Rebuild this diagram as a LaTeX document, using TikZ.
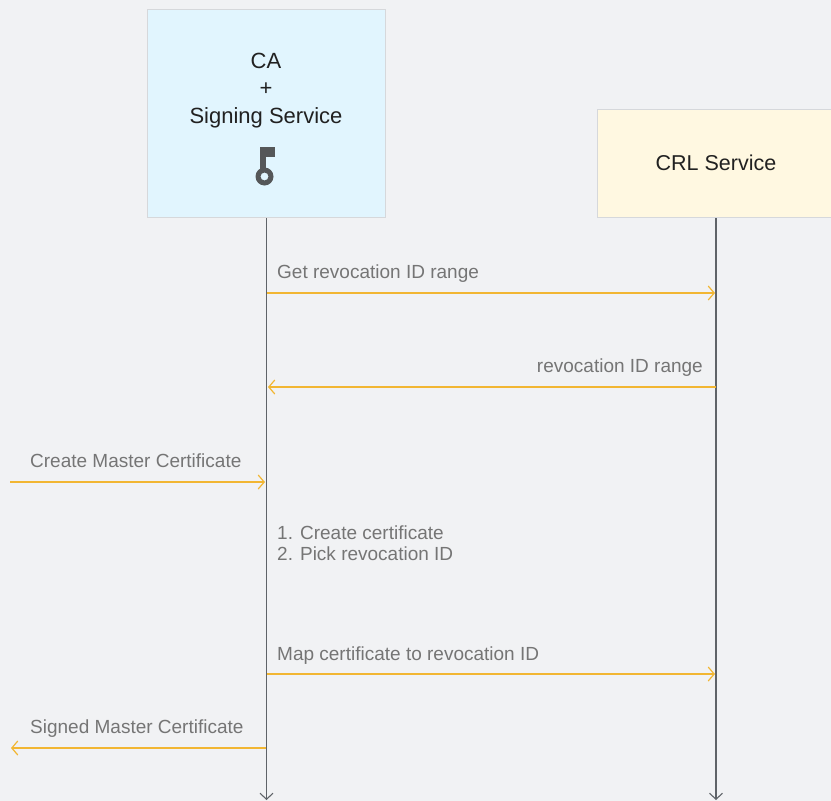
\documentclass[tikz,border=0pt]{standalone}
\usepackage{fontspec}
\setmainfont{Liberation Sans}
\usetikzlibrary{arrows.meta}
\definecolor{bg}{HTML}{F1F2F4}
\definecolor{cafill}{HTML}{E1F5FE}
\definecolor{crlfill}{HTML}{FFF8E1}
\definecolor{boxline}{HTML}{D6D8DB}
\definecolor{lifec}{HTML}{5F6368}
\definecolor{msgc}{HTML}{F2B632}
\definecolor{labc}{HTML}{757575}
\definecolor{titc}{HTML}{212121}
\definecolor{keyc}{HTML}{555759}
\tikzset{
  actor/.style={draw=boxline, line width=1.2pt, inner sep=0pt, anchor=north west},
  acttxt/.style={text=titc, font=\fontsize{22}{27.5}\selectfont, align=center, anchor=base, inner sep=0pt},
  lifeline/.style={draw=lifec, line width=1.1pt, -{Straight Barb[length=6pt,width=13pt,line width=1.1pt]}},
  msg/.style={draw=msgc, line width=1.2pt, -{Straight Barb[length=6pt,width=14pt,line width=1.2pt]}},
  lab/.style={text=labc, font=\fontsize{19}{20.5}\selectfont, inner sep=0pt},
}
\begin{document}
\begin{tikzpicture}[x=1pt,y=-1pt]
\useasboundingbox (0,0) rectangle (831,801);
\fill[bg] (0,0) rectangle (831,801);
% actors
\node[actor, fill=cafill, minimum width=238pt, minimum height=208pt] (ca) at (147,9) {};
\node[actor, fill=crlfill, minimum width=240pt, minimum height=108pt] (crl) at (597,109) {};
\node[acttxt] (catxt) at (266,123) {CA\\+\\Signing Service};
\node[acttxt, font=\fontsize{21.5}{26}\selectfont] (crltxt) at (716,170) {CRL Service};
% key icon
\fill[keyc, even odd rule] (264.5,176.5) circle[radius=9] (264.5,176.5) circle[radius=4];
\fill[keyc] (260,146.5) rectangle (266,169);
\fill[keyc] (265,146.5) rectangle (274.5,157);
% lifelines
\coordinate (caend) at (266.5,800);
\coordinate (crlend) at (716,800);
\draw[lifeline] (ca.south -| caend) -- (caend);
\draw[lifeline] (crl.south -| crlend) -- (crlend);
% message points
\coordinate (m1a) at (267,293); \coordinate (m1b) at (715,293);
\coordinate (m2a) at (715.5,387); \coordinate (m2b) at (268,387);
\coordinate (m3a) at (10,482); \coordinate (m3b) at (265,482);
\coordinate (m4a) at (267,674); \coordinate (m4b) at (715,674);
\coordinate (m5a) at (266,748); \coordinate (m5b) at (11,748);
\draw[msg] (m1a) -- (m1b);
\draw[msg] (m2a) -- (m2b);
\draw[msg] (m3a) -- (m3b);
\draw[msg] (m4a) -- (m4b);
\draw[msg] (m5a) -- (m5b);
% labels
\node[lab, anchor=base west] (l1) at (277,278) {Get revocation ID range};
\node[lab, anchor=base east] (l2) at (703,372) {revocation ID range};
\node[lab, anchor=base west] (l3) at (30,467) {Create Master Certificate};
\node[lab, anchor=base west, align=left] (l4) at (277,560) {1. Create certificate\\2. Pick revocation ID};
\node[lab, anchor=base west] (l5) at (277,660) {Map certificate to revocation ID};
\node[lab, anchor=base west] (l6) at (30,733) {Signed Master Certificate};
\end{tikzpicture}
\end{document}
